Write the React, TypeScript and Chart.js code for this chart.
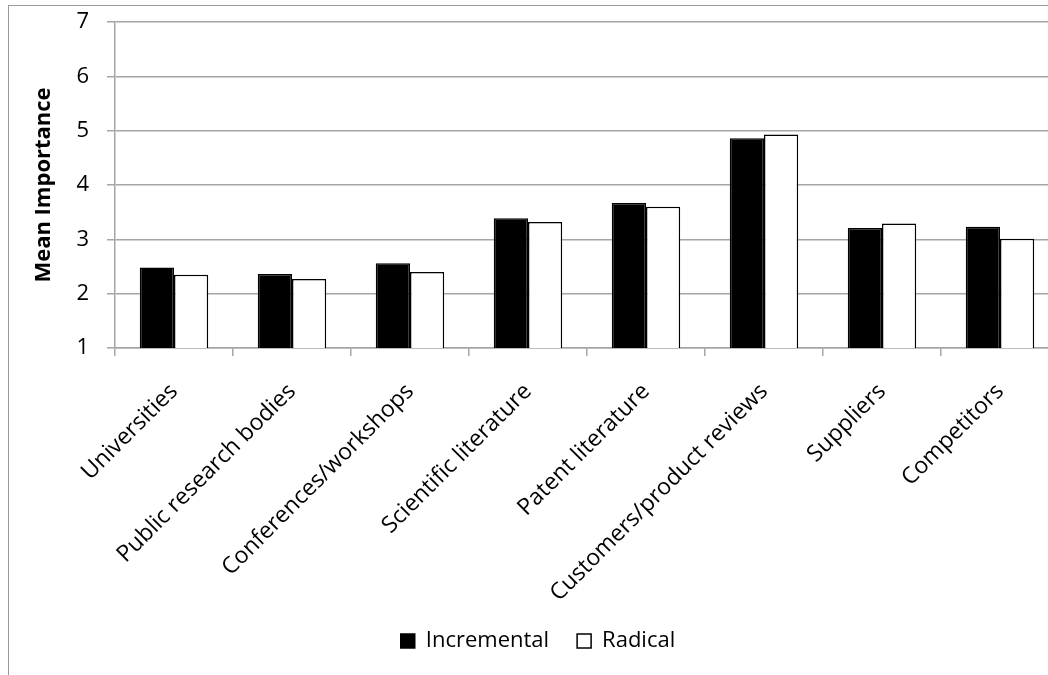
import React, { useEffect, useRef } from "react";
import { Chart, registerables } from "chart.js";

Chart.register(...registerables);

const categories = [
  "Universities",
  "Public research bodies",
  "Conferences/workshops",
  "Scientific literature",
  "Patent literature",
  "Customers/product reviews",
  "Suppliers",
  "Competitors",
];
const incremental = [2.48, 2.36, 2.56, 3.39, 3.67, 4.86, 3.21, 3.23];
const radical = [2.35, 2.27, 2.40, 3.32, 3.60, 4.93, 3.29, 3.01];
const yTicks = [1, 2, 3, 4, 5, 6, 7];

const FONT = "'Open Sans', sans-serif";
const GRID = "#a6a6a6";

export default function App() {
  const ref = useRef<HTMLCanvasElement | null>(null);

  useEffect(() => {
    if (!ref.current) return;
    const chart = new Chart(ref.current, {
      type: "bar",
      data: {
        labels: categories,
        datasets: [
          {
            label: "Incremental",
            data: incremental,
            backgroundColor: "#000000",
            borderColor: "#000000",
            borderWidth: 1.5,
            categoryPercentage: 0.58,
            barPercentage: 1,
          },
          {
            label: "Radical",
            data: radical,
            backgroundColor: "#ffffff",
            borderColor: "#000000",
            borderWidth: 1.5,
            categoryPercentage: 0.58,
            barPercentage: 1,
          },
        ],
      },
      options: {
        responsive: false,
        animation: false,
        devicePixelRatio: 1,
        layout: { padding: { left: 17, right: 11, top: 22, bottom: 28 } },
        plugins: {
          tooltip: { enabled: false },
          legend: {
            position: "bottom",
            labels: {
              color: "#000",
              font: { family: FONT, size: 22 },
              boxWidth: 14,
              boxHeight: 14,
              padding: 28,
            },
          },
        },
        scales: {
          x: {
            afterFit: (s: any) => {
              s.height = 254;
            },
            border: { color: GRID, width: 1.5 },
            grid: {
              drawOnChartArea: false,
              drawTicks: true,
              tickLength: 8,
              color: GRID,
              lineWidth: 1.5,
              offset: true,
            },
            ticks: {
              color: "#000",
              font: { family: FONT, size: 23 },
              minRotation: 45,
              maxRotation: 45,
              autoSkip: false,
              padding: 22,
            },
          },
          y: {
            min: 1,
            max: 7,
            afterFit: (s: any) => {
              s.width = 98;
              s.paddingTop = 0;
              s.paddingBottom = 0;
            },
            afterBuildTicks: (s: any) => {
              s.ticks = yTicks.map((v) => ({ value: v }));
            },
            border: { color: GRID, width: 1.5 },
            grid: {
              color: GRID,
              lineWidth: 1.5,
              tickLength: 8,
            },
            ticks: {
              color: "#000",
              font: { family: FONT, size: 22 },
              padding: 18,
            },
            title: {
              display: true,
              text: "Mean Importance",
              color: "#000",
              font: { family: FONT, size: 22, weight: "bold" },
              padding: { top: 14, bottom: 0 },
            },
          },
        },
      },
    });
    return () => chart.destroy();
  }, []);

  return (
    <div
      style={{
        position: "fixed",
        left: 0,
        top: 0,
        width: "100vw",
        height: "100vh",
        overflow: "hidden",
        background: "#fff",
      }}
    >
      <div
        style={{
          position: "absolute",
          left: 8,
          top: 5,
          width: 1100,
          height: 720,
          border: "1px solid #999",
          boxSizing: "border-box",
        }}
      />
      <canvas
        ref={ref}
        width={1070}
        height={690}
        style={{ position: "absolute", left: 0, top: 0, width: 1070, height: 690 }}
      />
    </div>
  );
}
